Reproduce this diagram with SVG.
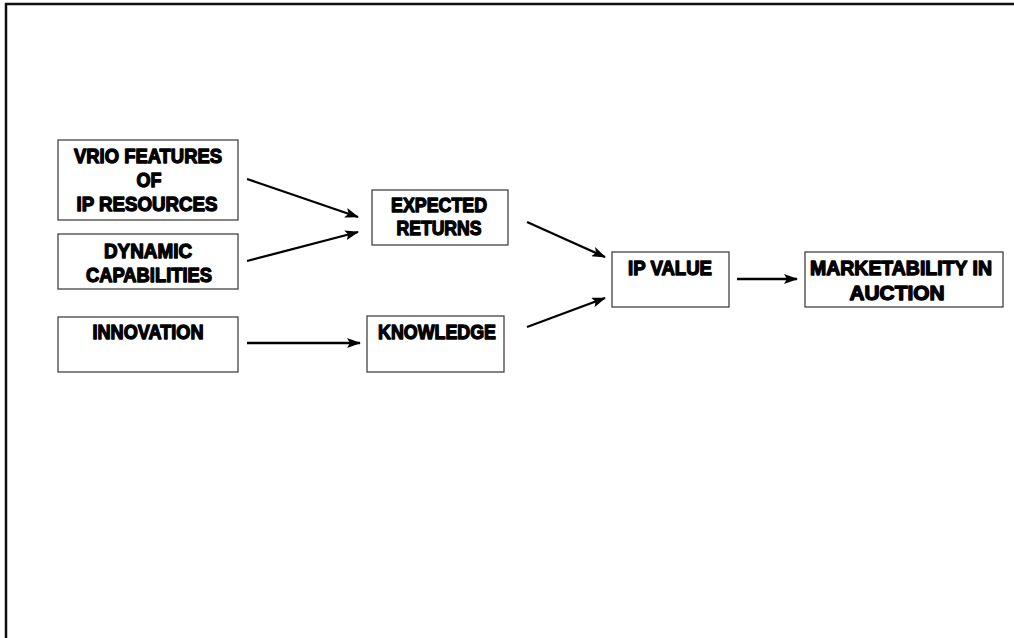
<svg xmlns="http://www.w3.org/2000/svg" width="1014" height="638" viewBox="0 0 1014 638">
  <style>
    .box { fill: #ffffff; stroke: #333333; stroke-width: 1.2; }
    .lbl { font-family: "Liberation Sans", Arial, sans-serif; font-weight: bold; font-size: 19.5px; fill: #000000; stroke: #000000; stroke-width: 1.3; stroke-linejoin: round; text-anchor: middle; }
    .arrow { stroke: #000000; stroke-width: 2.3; fill: none; marker-end: url(#head); }
  </style>
  <defs>
    <marker id="head" markerWidth="14" markerHeight="10" refX="13" refY="5" orient="auto" markerUnits="userSpaceOnUse">
      <path d="M0,0 L14,5 L0,10 L3,5 Z" fill="#000000"/>
    </marker>
  </defs>

  <rect x="0" y="0" width="1014" height="638" fill="#ffffff"/>
  <!-- page frame -->
  <path d="M6,640 L6,4 L1016,4" fill="none" stroke="#111111" stroke-width="2.5"/>

  <g id="node-vrio">
    <rect class="box" x="58" y="140" width="180" height="80"/>
    <text class="lbl" x="148" y="163" textLength="148" lengthAdjust="spacingAndGlyphs">VRIO FEATURES</text>
    <text class="lbl" x="149" y="187" textLength="25" lengthAdjust="spacingAndGlyphs">OF</text>
    <text class="lbl" x="147" y="211" textLength="141" lengthAdjust="spacingAndGlyphs">IP RESOURCES</text>
  </g>

  <g id="node-dynamic">
    <rect class="box" x="58" y="234" width="180" height="55"/>
    <text class="lbl" x="148" y="258" textLength="88" lengthAdjust="spacingAndGlyphs">DYNAMIC</text>
    <text class="lbl" x="149" y="282" textLength="126" lengthAdjust="spacingAndGlyphs">CAPABILITIES</text>
  </g>

  <g id="node-innovation">
    <rect class="box" x="58" y="317" width="180" height="55"/>
    <text class="lbl" x="148" y="339" textLength="111" lengthAdjust="spacingAndGlyphs">INNOVATION</text>
  </g>

  <g id="node-expected">
    <rect class="box" x="372" y="190" width="136" height="55"/>
    <text class="lbl" x="439" y="212" textLength="96" lengthAdjust="spacingAndGlyphs">EXPECTED</text>
    <text class="lbl" x="439" y="235" textLength="85" lengthAdjust="spacingAndGlyphs">RETURNS</text>
  </g>

  <g id="node-knowledge">
    <rect class="box" x="367" y="316" width="137" height="56"/>
    <text class="lbl" x="437" y="339" textLength="118" lengthAdjust="spacingAndGlyphs">KNOWLEDGE</text>
  </g>

  <g id="node-ipvalue">
    <rect class="box" x="612" y="252" width="117" height="55"/>
    <text class="lbl" x="670" y="275" textLength="84" lengthAdjust="spacingAndGlyphs">IP VALUE</text>
  </g>

  <g id="node-marketability">
    <rect class="box" x="805" y="252" width="198" height="55"/>
    <text class="lbl" x="901" y="275" textLength="182" lengthAdjust="spacingAndGlyphs">MARKETABILITY IN</text>
    <text class="lbl" x="897" y="300" textLength="95" lengthAdjust="spacingAndGlyphs">AUCTION</text>
  </g>

  <g id="connectors">
    <line class="arrow" x1="247" y1="179" x2="358" y2="217"/>
    <line class="arrow" x1="247" y1="261" x2="358" y2="232"/>
    <line class="arrow" x1="247" y1="343" x2="360" y2="343"/>
    <line class="arrow" x1="527" y1="222" x2="605" y2="257"/>
    <line class="arrow" x1="527" y1="327" x2="605" y2="298"/>
    <line class="arrow" x1="737" y1="279" x2="797" y2="279"/>
  </g>
</svg>
